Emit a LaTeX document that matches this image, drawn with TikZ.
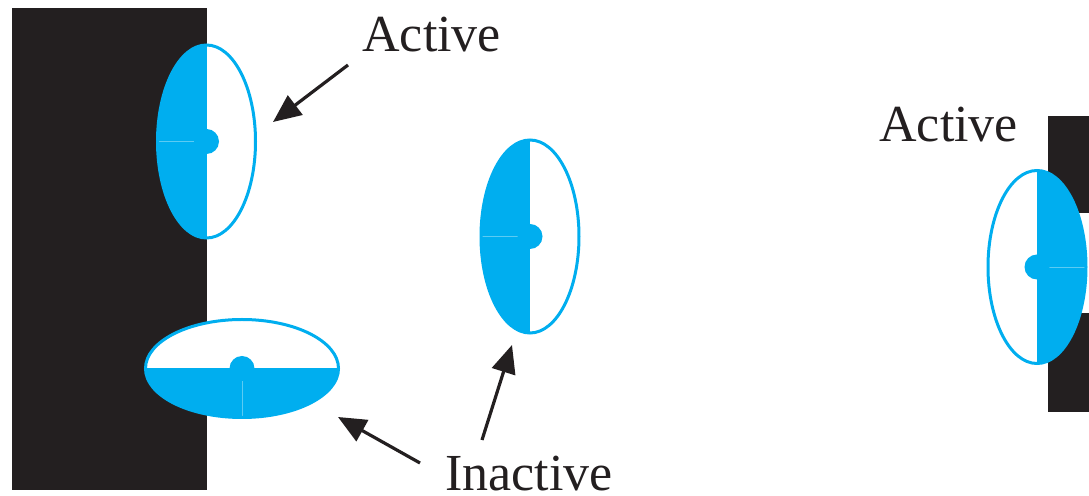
\documentclass[tikz,border=0pt]{standalone}
\usepackage{fontspec}
\setmainfont{Liberation Serif}
\usepackage{xcolor}
\usepackage{tikz}
\usetikzlibrary{arrows.meta,positioning}
\definecolor{wall}{HTML}{231F20}
\definecolor{cellblue}{HTML}{00AEEF}
\definecolor{seamblue}{HTML}{5CCBF3}

\tikzset{
  label/.style={inner sep=0pt, anchor=base west, text depth=0pt,
                font=\fontsize{26}{30}\selectfont, text=wall},
  pointer/.style={draw=wall, line width=1.6pt, -{Triangle[length=14pt,width=12pt]}},
  cell/.pic={
    \fill[white] (0,0) ellipse[x radius=49, y radius=96.5];
    \begin{scope}
      \clip (0,0) ellipse[x radius=49, y radius=96.5];
      \fill[cellblue] (-52,-100) rectangle (0,100);
    \end{scope}
    \draw[seamblue, line width=0.3pt] (-48,0) -- (0,0);
    \fill[cellblue] (0,0) circle[radius=12.5];
    \draw[cellblue, line width=1.5pt] (0,0) ellipse[x radius=49, y radius=96.5];
  }
}

\begin{document}
\begin{tikzpicture}[x=0.5pt, y=-0.5pt]
  \useasboundingbox (0,0) rectangle (1089,496);

  % membranes
  \fill[wall] (12,8) rectangle (207,490);
  \fill[wall] (1048,116) rectangle (1089,213);
  \fill[wall] (1048,313) rectangle (1089,412);

  % channels
  \pic at (206.5,141.5) {cell};
  \pic[rotate=90] at (242,368.5) {cell};
  \pic at (530,236.5) {cell};
  \pic[rotate=180] at (1037,267) {cell};

  % labels
  \node[label] (act1) at (362,51.7) {Active};
  \node[label] (act2) at (879,141.7) {Active};
  \node[label] (inact) at (445,491) {Inactive};

  % arrow ends
  \coordinate (act1-tail) at (348,65);
  \coordinate (act1-tip) at (273,122);
  \coordinate (inact-tailA) at (420,463);
  \coordinate (inact-tipA) at (338,417);
  \coordinate (inact-tailB) at (482,440);
  \coordinate (inact-tipB) at (512,345);

  \draw[pointer] (act1-tail) -- (act1-tip);
  \draw[pointer] (inact-tailA) -- (inact-tipA);
  \draw[pointer] (inact-tailB) -- (inact-tipB);
\end{tikzpicture}
\end{document}
